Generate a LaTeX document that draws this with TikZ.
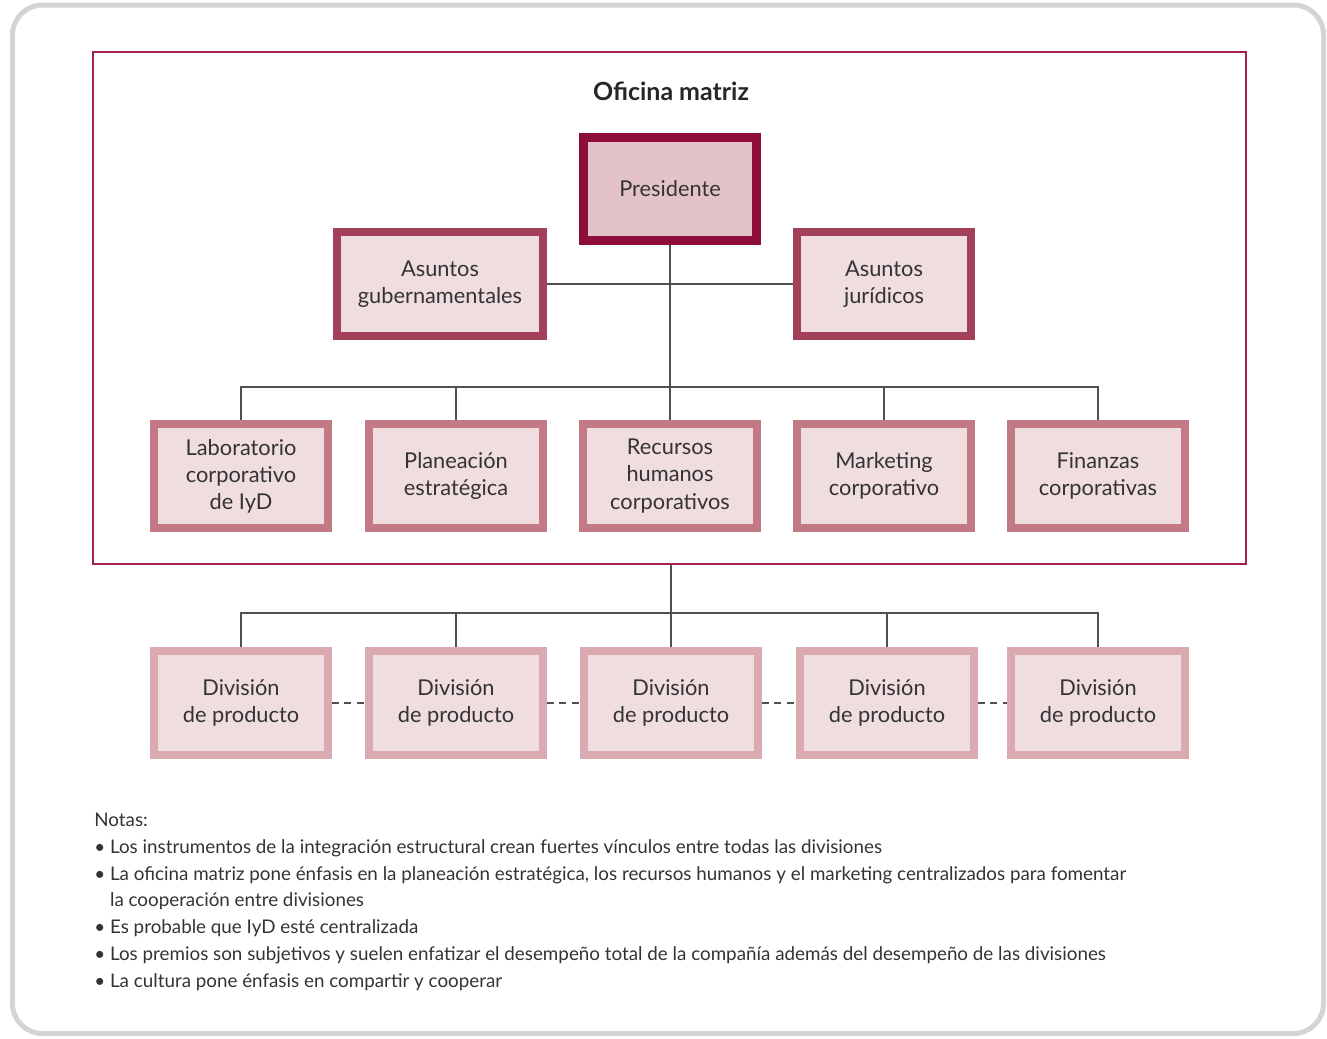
\documentclass[tikz,border=0pt]{standalone}
\usepackage{fontspec}
\setmainfont{Lato}
\usepackage{xcolor}
\usetikzlibrary{positioning}

\definecolor{presborder}{HTML}{8E0E3B}
\definecolor{presfill}{HTML}{E3C3C7}
\definecolor{topborder}{HTML}{A3405A}
\definecolor{staffborder}{HTML}{C47A86}
\definecolor{divborder}{HTML}{DAAAB0}
\definecolor{boxfill}{HTML}{F0DDE0}
\definecolor{framered}{HTML}{A32050}
\definecolor{txt}{HTML}{333333}
\definecolor{wire}{HTML}{505050}

\begin{document}
\begin{tikzpicture}[
    x=0.02cm, y=-0.02cm,
    box/.style={draw=#1, fill=boxfill, line width=0.16cm, align=center,
                minimum width=3.48cm, minimum height=2.08cm, inner sep=0pt,
                text=txt, font=\fontsize{12.4}{15.4}\selectfont},
    box/.default=staffborder,
    conn/.style={draw=wire, line width=0.8pt},
    dots/.style={draw=wire, line width=0.8pt, dash pattern=on 4pt off 3pt},
  ]
  \useasboundingbox (0,0) rectangle (1327,1038);

  % outer card
  \draw[line width=0.1cm, color=black!17, rounded corners=0.6cm]
    (12.5,5) rectangle (1323.5,1033.5);

  % head office frame
  \node[draw=framered, line width=0.9pt, minimum width=23.06cm,
        minimum height=10.24cm, inner sep=0pt] (hq) at (669.5,308) {};
  \node[font=\fontsize{14.2}{16}\selectfont\bfseries, text=black!85] (title)
    at (671,91) {Oficina matriz};

  % top management
  \node[box=presborder, fill=presfill, line width=0.18cm,
        minimum width=3.46cm, minimum height=2.06cm] (pres) at (670,189) {Presidente};
  \node[box=topborder, minimum width=4.12cm] (gov) at (440,284)
    {Asuntos\\gubernamentales};
  \node[box=topborder] (jur) at (884,284) {Asuntos\\jurídicos};

  % corporate staff
  \node[box] (lab)  at (241,476) {Laboratorio\\corporativo\\de IyD};
  \node[box] (plan) at (456,476) {Planeación\\estratégica};
  \node[box] (rh)   at (670,476) {Recursos\\humanos\\corporativos};
  \node[box] (mkt)  at (884,476) {Marketing\\corporativo};
  \node[box] (fin)  at (1098,476) {Finanzas\\corporativas};

  % product divisions
  \node[box=divborder] (div1) at (241,703) {División\\de producto};
  \node[box=divborder] (div2) at (456,703) {División\\de producto};
  \node[box=divborder] (div3) at (671,703) {División\\de producto};
  \node[box=divborder] (div4) at (887,703) {División\\de producto};
  \node[box=divborder] (div5) at (1098,703) {División\\de producto};

  \coordinate (bus1) at (670,387);
  \coordinate (bus2) at (671,613);

  % reporting lines
  \draw[conn] (gov.east) -- (jur.west);
  \draw[conn] (pres.south) -- (rh.north);
  \draw[conn] (lab.north) |- (bus1);
  \draw[conn] (fin.north) |- (bus1);
  \draw[conn] (plan.north) -- (plan.north |- bus1);
  \draw[conn] (mkt.north) -- (mkt.north |- bus1);

  \draw[conn] (hq.south -| bus2) -- (bus2);
  \draw[conn] (div1.north) |- (bus2);
  \draw[conn] (div5.north) |- (bus2);
  \draw[conn] (div2.north) -- (div2.north |- bus2);
  \draw[conn] (div3.north) -- (div3.north |- bus2);
  \draw[conn] (div4.north) -- (div4.north |- bus2);

  % links between divisions
  \draw[dots] (div1) -- (div2);
  \draw[dots] (div2) -- (div3);
  \draw[dots] (div3) -- (div4);
  \draw[dots] (div4) -- (div5);

  % notes
  \node[anchor=north west, inner sep=0pt, align=left, text=txt,
        font=\fontsize{10.7}{15.2}\selectfont] (notes) at (94,813)
    {Notas:\\
     • Los instrumentos de la integración estructural crean fuertes vínculos entre todas las divisiones\\
     • La oficina matriz pone énfasis en la planeación estratégica, los recursos humanos y el marketing centralizados para fomentar\\
     \phantom{• }la cooperación entre divisiones\\
     • Es probable que IyD esté centralizada\\
     • Los premios son subjetivos y suelen enfatizar el desempeño total de la compañía además del desempeño de las divisiones\\
     • La cultura pone énfasis en compartir y cooperar};
\end{tikzpicture}
\end{document}
